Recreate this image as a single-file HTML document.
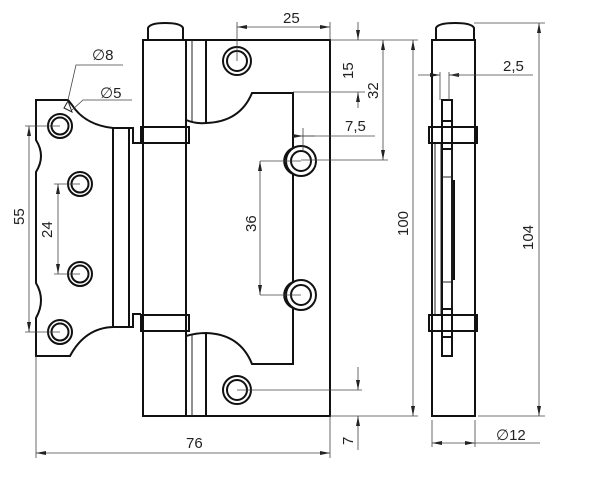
<!DOCTYPE html>
<html><head><meta charset="utf-8"><style>
html,body{margin:0;padding:0;background:#fff;}
svg{display:block;}
text{font-family:"Liberation Sans",sans-serif;font-size:15px;fill:#222;}
.o{fill:none;stroke:#111;stroke-width:2;}
.t{fill:none;stroke:#222;stroke-width:1;}
.d{fill:none;stroke:#444;stroke-width:0.8;}
</style></head><body>
<svg width="600" height="484" viewBox="0 0 600 484" xmlns="http://www.w3.org/2000/svg">
<defs>
<marker id="a" viewBox="0 0 10 6" refX="10" refY="3" markerWidth="10" markerHeight="6" orient="auto-start-reverse" markerUnits="userSpaceOnUse"><path d="M0,1 L10,3 L0,5 z" fill="#222"/></marker>
</defs>
<path class="o" d="M148,40 L148,28 Q150,23 165,23 Q181,23 183,28 L183,40"/>
<rect class="o" x="143" y="40" width="43" height="376"/>
<rect class="o" x="141" y="127" width="48" height="16" fill="#fff"/>
<rect class="o" x="141" y="315" width="48" height="16" fill="#fff"/>
<path class="o" d="M186,40 L330,40 L330,416 L186,416"/>
<line class="t" x1="192" y1="40" x2="192" y2="122"/>
<line class="o" x1="206" y1="40" x2="206" y2="123"/>
<line class="t" x1="192" y1="334" x2="192" y2="416"/>
<line class="o" x1="206" y1="333" x2="206" y2="416"/>
<path class="o" d="M186,120 Q196,124 206,123 Q240,122 252,93 L293,93 L293,148 A14,14 0 0 0 293,174 L293,282 A14,14 0 0 0 293,308 L293,364 L252,364 Q240,334 206,333 Q196,333 186,336"/>
<path class="o" d="M141,143 L133,143 L133,128 L113,128 Q85,125 72,105 L68,100 L36,100 L36,140 Q46,156 36,172 L36,283 Q46,300 36,318 L36,356 L70,356 Q85,328 113,327 L133,327 L133,314 L141,314"/>
<line class="o" x1="113" y1="128" x2="113" y2="327"/>
<line class="o" x1="129" y1="128" x2="129" y2="327"/>
<path class="t" d="M68,101 L64,108 L72,112 Z"/>
<g class="o" stroke-width="1.6">
<circle cx="60" cy="126" r="12"/><circle cx="60" cy="126" r="8.5"/>
<circle cx="80" cy="184" r="12"/><circle cx="80" cy="184" r="8.5"/>
<circle cx="80" cy="274" r="12"/><circle cx="80" cy="274" r="8.5"/>
<circle cx="60" cy="332" r="12"/><circle cx="60" cy="332" r="8.5"/>
<circle cx="237" cy="61" r="14"/><circle cx="237" cy="61" r="10"/>
<circle cx="301" cy="161" r="15"/><circle cx="301" cy="161" r="10"/>
<circle cx="301" cy="295" r="15"/><circle cx="301" cy="295" r="10"/>
<circle cx="237" cy="390" r="14"/><circle cx="237" cy="390" r="10"/>
</g>
<g class="d">
<line x1="237" y1="22" x2="237" y2="61"/><line x1="330" y1="22" x2="330" y2="40"/>
<line x1="237" y1="27" x2="330" y2="27" marker-start="url(#a)" marker-end="url(#a)"/>
<line x1="330" y1="40" x2="418" y2="40"/>
<line x1="293" y1="92" x2="365" y2="92"/>
<line x1="358" y1="22" x2="358" y2="40" marker-end="url(#a)"/>
<line x1="358" y1="92" x2="358" y2="108" marker-start="url(#a)"/>
<line x1="301" y1="160" x2="388" y2="160"/>
<line x1="383" y1="40" x2="383" y2="160" marker-start="url(#a)" marker-end="url(#a)"/>
<line x1="303" y1="128" x2="303" y2="150"/>
<line x1="293" y1="136" x2="303" y2="136" marker-end="url(#a)"/>
<line x1="303" y1="136" x2="375" y2="136"/>
<line x1="315" y1="136" x2="303" y2="136"/>
<line x1="413" y1="40" x2="413" y2="416" marker-start="url(#a)" marker-end="url(#a)"/>
<line x1="330" y1="416" x2="418" y2="416"/>
<line x1="237" y1="390" x2="362" y2="390"/>
<line x1="358" y1="367" x2="358" y2="390" marker-end="url(#a)"/>
<line x1="358" y1="416" x2="358" y2="450" marker-start="url(#a)"/>
<line x1="260" y1="161" x2="301" y2="161"/><line x1="260" y1="295" x2="301" y2="295"/>
<line x1="260" y1="161" x2="260" y2="295" marker-start="url(#a)" marker-end="url(#a)"/>
<line x1="25" y1="126" x2="60" y2="126"/><line x1="25" y1="332" x2="60" y2="332"/>
<line x1="29" y1="126" x2="29" y2="332" marker-start="url(#a)" marker-end="url(#a)"/>
<line x1="54" y1="184" x2="80" y2="184"/><line x1="54" y1="274" x2="80" y2="274"/>
<line x1="58" y1="184" x2="58" y2="274" marker-start="url(#a)" marker-end="url(#a)"/>
<line x1="36" y1="356" x2="36" y2="458"/><line x1="330" y1="416" x2="330" y2="458"/>
<line x1="36" y1="453" x2="330" y2="453" marker-start="url(#a)" marker-end="url(#a)"/>
<polyline points="68,100 76,65 123,65"/>
<polyline points="72,110 83,100 132,100"/>
</g>
<text x="283" y="23">25</text>
<text transform="translate(353,79) rotate(-90)">15</text>
<text transform="translate(378,99) rotate(-90)">32</text>
<text x="345" y="131">7,5</text>
<text transform="translate(408,236) rotate(-90)">100</text>
<text transform="translate(353,445) rotate(-90)">7</text>
<text transform="translate(256,232) rotate(-90)">36</text>
<text transform="translate(24,225) rotate(-90)">55</text>
<text transform="translate(52,238) rotate(-90)">24</text>
<text x="186" y="448">76</text>
<text x="92" y="60">∅8</text>
<text x="100" y="98">∅5</text>
<path class="o" d="M436,40 L436,28 Q438,23 455,23 Q472,23 474,28 L474,40"/>
<rect class="o" x="432" y="40" width="43" height="376"/>
<line class="t" x1="435" y1="143" x2="435" y2="314"/>
<line class="t" x1="441" y1="143" x2="441" y2="314"/>
<rect class="o" x="442" y="100" width="10" height="256" fill="#fff"/>
<line class="t" x1="452" y1="143" x2="452" y2="314"/>
<line class="o" x1="454" y1="180" x2="454" y2="280"/>
<line class="t" x1="442" y1="177" x2="452" y2="177"/><line class="t" x1="442" y1="282" x2="452" y2="282"/>
<rect class="o" x="429" y="127" width="48" height="16" fill="#fff"/>
<rect class="o" x="429" y="315" width="48" height="16" fill="#fff"/>
<rect class="o" x="442" y="121" width="10" height="28" fill="#fff"/>
<rect class="o" x="442" y="309" width="10" height="28" fill="#fff"/>
<g class="d">
<line x1="440" y1="72" x2="440" y2="100"/><line x1="449" y1="72" x2="449" y2="100"/>
<line x1="418" y1="75" x2="440" y2="75" marker-end="url(#a)"/>
<line x1="460" y1="75" x2="449" y2="75" marker-end="url(#a)"/>
<line x1="449" y1="75" x2="533" y2="75"/>
<line x1="474" y1="23" x2="545" y2="23"/><line x1="478" y1="416" x2="545" y2="416"/>
<line x1="539" y1="23" x2="539" y2="416" marker-start="url(#a)" marker-end="url(#a)"/>
<line x1="432" y1="420" x2="432" y2="447"/><line x1="475" y1="420" x2="475" y2="447"/>
<line x1="432" y1="443" x2="475" y2="443" marker-start="url(#a)" marker-end="url(#a)"/>
<line x1="475" y1="443" x2="540" y2="443"/>
</g>
<text x="503" y="71">2,5</text>
<text transform="translate(533,250) rotate(-90)">104</text>
<text x="496" y="440">∅12</text>
</svg>
</body></html>
